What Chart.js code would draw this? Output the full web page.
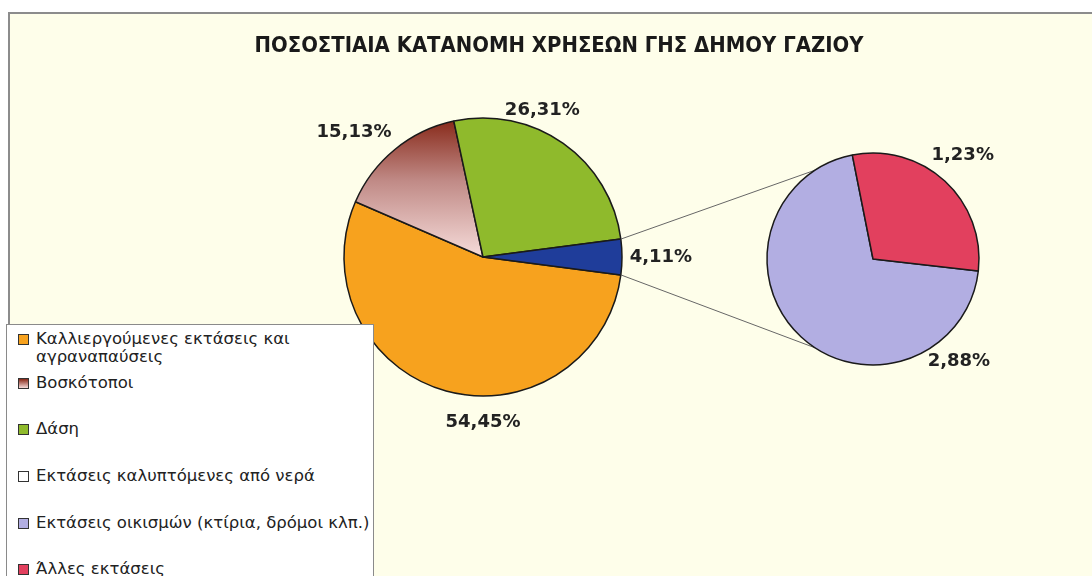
<!DOCTYPE html>
<html>
<head>
<meta charset="utf-8">
<script src="https://cdn.jsdelivr.net/npm/chart.js@4"></script>
<style>
  html, body { margin: 0; padding: 0; background: #fff; }
  body { width: 1092px; height: 576px; position: relative; overflow: hidden; }
  #frame { position: absolute; left: 8px; top: 12px; width: 1100px; height: 600px;
           background: #fefeea; border-top: 2px solid #8c8c8c; border-left: 2px solid #8c8c8c; }
  canvas { position: absolute; }
  #main { left: 0; top: 0; }
  #sub { left: 723px; top: 109px; }
  #legend { position: absolute; left: 6px; top: 324px; width: 368px; height: 300px;
            background: #fff; border: 1px solid #8a8a8a; box-sizing: border-box;
            font: 16.5px "DejaVu Sans", Verdana, sans-serif; color: #222; padding: 5px 0 0 11px; }
  .item { display: flex; align-items: flex-start; line-height: 18px; margin-bottom: 28px; white-space: nowrap; }
  .item:first-child { margin-bottom: 8px; white-space: normal; padding-right: 10px; }
  .item:nth-child(3), .item:nth-child(4) { margin-bottom: 29px; }
  .box { width: 9px; height: 9px; border: 1px solid #333; margin: 4px 7px 0 0; flex: none; }
</style>
</head>
<body>
<div id="frame"></div>
<canvas id="main" width="966" height="576"></canvas>
<canvas id="sub" width="300" height="300"></canvas>
<div id="legend"></div>
<script>
const title = 'ΠΟΣΟΣΤΙΑΙΑ ΚΑΤΑΝΟΜΗ ΧΡΗΣΕΩΝ ΓΗΣ ΔΗΜΟΥ ΓΑΖΙΟΥ';

const categories = [
  'Καλλιεργούμενες εκτάσεις και αγραναπαύσεις',
  'Βοσκότοποι',
  'Δάση',
  'Εκτάσεις καλυπτόμενες από νερά',
  'Εκτάσεις οικισμών (κτίρια, δρόμοι κλπ.)',
  'Άλλες εκτάσεις'
];
const values = [54.45, 15.13, 26.31, 0, 2.88, 1.23];
const colors = ['#f7a21e', 'brown', '#8fba2c', '#ffffff', '#b2aee2', '#e2405e'];
const otherColor = '#1f3d9a';

// first three go in the big pie, the rest are grouped into the small one
const mainLabels = categories.slice(0, 3).concat(['Άλλο']);
const subValues = values.slice(3);
const otherTotal = subValues.reduce((a, b) => a + b, 0);
const mainValues = values.slice(0, 3).concat([Math.round(otherTotal * 100) / 100]);
const subIdx = [4, 5];

// label anchors: [angle deg clockwise from 3 o'clock, radius factor]
const mainLabelPos = [[90, 1.19], [224, 1.29], [292, 1.14], [0, 1.28]];
const subLabelPos = [[50, 1.26], [-49, 1.29]];

const fmt = v => v.toFixed(2).replace('.', ',') + '%';

function brownFill(chart) {
  const a = chart.chartArea;
  if (!a) return '#b06a60';
  const cy = (a.top + a.bottom) / 2;
  const r = Math.min(a.right - a.left, a.bottom - a.top) / 2;
  const g = chart.ctx.createLinearGradient(0, cy - r, 0, cy);
  g.addColorStop(0, '#862616');
  g.addColorStop(0.45, '#c08a86');
  g.addColorStop(1, '#f6dcda');
  return g;
}

const pctLabels = {
  id: 'pctLabels',
  afterDatasetsDraw(chart, args, opts) {
    const ctx = chart.ctx;
    const meta = chart.getDatasetMeta(0);
    const data = chart.data.datasets[0].data;
    ctx.save();
    ctx.font = 'bold 18px "DejaVu Sans", Verdana, sans-serif';
    ctx.fillStyle = '#222';
    ctx.textAlign = 'center';
    ctx.textBaseline = 'middle';
    meta.data.forEach((arc, i) => {
      const p = opts.pos[i];
      const a = p[0] * Math.PI / 180;
      const r = arc.outerRadius * p[1];
      ctx.fillText(fmt(data[i]), arc.x + Math.cos(a) * r, arc.y + Math.sin(a) * r);
    });
    ctx.restore();
  }
};

// chart title, centred over the whole plot frame rather than over the big pie
const frameTitle = {
  id: 'frameTitle',
  afterDraw(chart, args, opts) {
    const ctx = chart.ctx;
    ctx.save();
    ctx.font = 'bold 22px "DejaVu Sans", Verdana, sans-serif';
    ctx.fillStyle = '#1a1a1a';
    ctx.textAlign = 'center';
    ctx.textBaseline = 'middle';
    ctx.fillText(opts.text, opts.x, opts.y, opts.maxWidth);
    ctx.restore();
  }
};

const subChart = new Chart(document.getElementById('sub'), {
  type: 'pie',
  data: {
    labels: subIdx.map(i => categories[i]),
    datasets: [{
      data: subIdx.map(i => values[i]),
      backgroundColor: subIdx.map(i => colors[i]),
      borderColor: '#1a1a1a',
      borderWidth: 1.5
    }]
  },
  options: {
    responsive: false,
    animation: false,
    radius: 106,
    rotation: 96.5,
    plugins: {
      legend: { display: false },
      tooltip: { enabled: false },
      pctLabels: { pos: subLabelPos }
    }
  },
  plugins: [pctLabels]
});

const connectors = {
  id: 'connectors',
  afterDatasetsDraw(chart) {
    const arc = chart.getDatasetMeta(0).data[3];
    const sub = subChart.getDatasetMeta(0).data[0];
    const cv = document.getElementById('sub');
    const cx = sub.x + cv.offsetLeft, cy = sub.y + cv.offsetTop, r = sub.outerRadius;
    const ctx = chart.ctx;
    const spread = 57 * Math.PI / 180;
    const ends = [[arc.startAngle, Math.PI + spread], [arc.endAngle, Math.PI - spread]];
    ctx.save();
    ctx.strokeStyle = '#666';
    ctx.lineWidth = 1;
    ends.forEach(([a, b]) => {
      ctx.beginPath();
      ctx.moveTo(arc.x + Math.cos(a) * arc.outerRadius, arc.y + Math.sin(a) * arc.outerRadius);
      ctx.lineTo(cx + Math.cos(b) * r, cy + Math.sin(b) * r);
      ctx.stroke();
    });
    ctx.restore();
  }
};

new Chart(document.getElementById('main'), {
  type: 'pie',
  data: {
    labels: mainLabels,
    datasets: [{
      data: mainValues,
      backgroundColor: ctx => ctx.dataIndex === 1 ? brownFill(ctx.chart) :
        (ctx.dataIndex === 3 ? otherColor : colors[ctx.dataIndex]),
      borderColor: '#1a1a1a',
      borderWidth: 1.5
    }]
  },
  options: {
    responsive: false,
    animation: false,
    radius: 139,
    rotation: 90 + otherTotal * 1.8,
    layout: { padding: { left: 200, right: 200, top: 118, bottom: 180 } },
    plugins: {
      legend: { display: false },
      tooltip: { enabled: false },
      pctLabels: { pos: mainLabelPos },
      frameTitle: { text: title, x: 559, y: 46, maxWidth: 609 }
    }
  },
  plugins: [connectors, pctLabels, frameTitle]
});

// legend box
const legend = document.getElementById('legend');
categories.forEach((c, i) => {
  const it = document.createElement('div');
  it.className = 'item';
  const b = document.createElement('span');
  b.className = 'box';
  b.style.background = i === 1 ? 'linear-gradient(#862616, #f6dcda)' : colors[i];
  const t = document.createElement('span');
  t.textContent = c;
  it.appendChild(b);
  it.appendChild(t);
  legend.appendChild(it);
});
</script>
</body>
</html>
